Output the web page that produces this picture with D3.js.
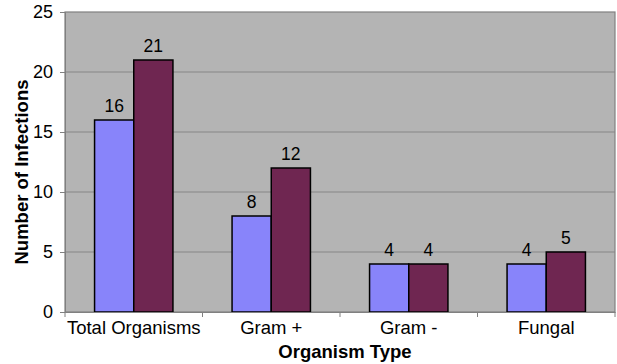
<!DOCTYPE html>
<html>
<head>
<meta charset="utf-8">
<script src="https://cdn.jsdelivr.net/npm/d3@7"></script>
<style>
  body { margin: 0; background: #fff; }
  svg { display: block; font-family: "Liberation Sans", Arial, sans-serif; }
</style>
</head>
<body>
<svg id="chart" width="617" height="364"></svg>
<script>
// Infection counts per organism type, two series
const categories = ["Total Organisms", "Gram +", "Gram -", "Fungal"];
const seriesA = [16, 8, 4, 4];
const seriesB = [21, 12, 4, 5];
const yTicks = [0, 5, 10, 15, 20, 25];
const seriesColors = ["#8884FA", "#6F2651"];

const svg = d3.select("#chart");
const margin = { left: 65, right: 2, top: 12, bottom: 52 };
const W = 617, H = 364;
const innerW = W - margin.left - margin.right;
const innerH = H - margin.top - margin.bottom;
const FONT = "'Liberation Sans', Arial, sans-serif";

const g = svg.append("g").attr("transform", `translate(${margin.left},${margin.top})`);

const x = d3.scaleBand().domain(categories).range([0, innerW]).paddingInner(0).paddingOuter(0);
const y = d3.scaleLinear().domain([0, 25]).range([innerH, 0]);
const groupPad = 0.215;
const x1 = d3.scaleBand().domain([0, 1]).range([x.bandwidth() * groupPad, x.bandwidth() * (1 - groupPad)]);

// plot background
g.append("rect").attr("x", 0).attr("y", 0).attr("width", innerW).attr("height", innerH)
  .attr("fill", "#B4B4B4").attr("stroke", "#808080").attr("stroke-width", 1.2);

// horizontal gridlines
g.selectAll(".grid").data(yTicks.slice(1, -1)).join("line")
  .attr("x1", 0).attr("x2", innerW)
  .attr("y1", d => y(d)).attr("y2", d => y(d))
  .attr("stroke", "#858585").attr("stroke-width", 1.2);

// bars
const data = categories.map((c, i) => ({ c, vals: [seriesA[i], seriesB[i]] }));
const groups = g.selectAll(".grp").data(data).join("g")
  .attr("transform", d => `translate(${x(d.c)},0)`);
groups.selectAll("rect").data(d => d.vals.map((v, k) => ({ v, k }))).join("rect")
  .attr("x", d => x1(d.k)).attr("width", x1.bandwidth())
  .attr("y", d => y(d.v)).attr("height", d => innerH - y(d.v))
  .attr("fill", d => seriesColors[d.k]).attr("stroke", "#000").attr("stroke-width", 1.5);
groups.selectAll("text").data(d => d.vals.map((v, k) => ({ v, k }))).join("text")
  .attr("x", d => x1(d.k) + x1.bandwidth() / 2).attr("y", d => y(d.v) - 8)
  .attr("text-anchor", "middle").attr("font-size", 17.5).attr("fill", "#000")
  .text(d => d.v);

// y axis
const yAxis = g.append("g").call(d3.axisLeft(y).tickValues(yTicks).tickSize(5).tickPadding(7));
yAxis.select(".domain").attr("stroke", "#808080");
yAxis.selectAll(".tick line").attr("stroke", "#808080");
yAxis.selectAll("text").attr("font-size", 18).attr("fill", "#000").attr("font-family", FONT);

// x axis
const xAxis = g.append("g").attr("transform", `translate(0,${innerH})`)
  .call(d3.axisBottom(x).tickSize(0).tickPadding(9));
xAxis.select(".domain").attr("stroke", "#808080");
xAxis.selectAll("text").attr("font-size", 18.5).attr("fill", "#000").attr("font-family", FONT);
xAxis.selectAll(".sep").data(d3.range(categories.length + 1)).join("line")
  .attr("x1", i => i * x.bandwidth()).attr("x2", i => i * x.bandwidth())
  .attr("y1", 0).attr("y2", 5).attr("stroke", "#808080");

// axis titles
svg.append("text").attr("x", 345).attr("y", 358)
  .attr("text-anchor", "middle").attr("font-size", 18.5).attr("font-weight", "bold")
  .text("Organism Type");
svg.append("text").attr("transform", `translate(28,172) rotate(-90)`)
  .attr("text-anchor", "middle").attr("font-size", 18.5).attr("font-weight", "bold")
  .text("Number of Infections");
</script>
</body>
</html>
